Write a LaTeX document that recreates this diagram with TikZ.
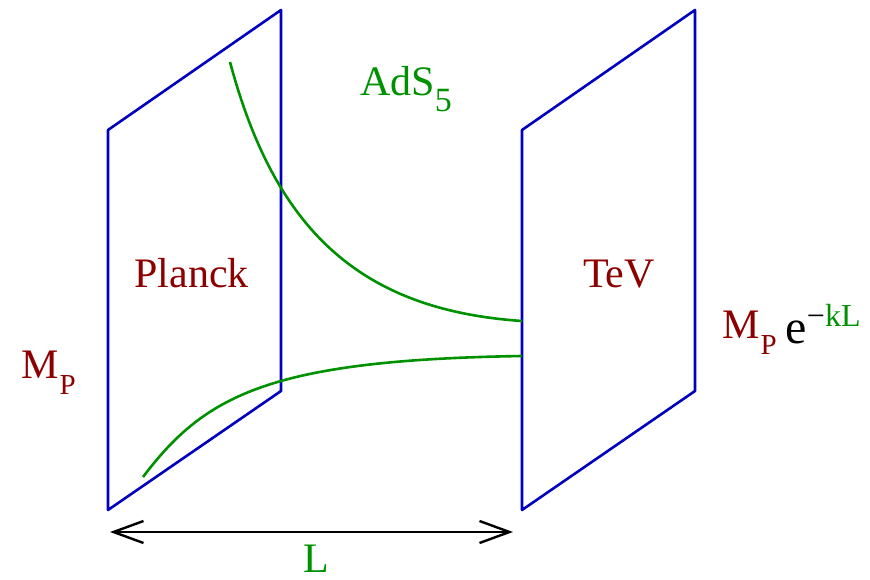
\documentclass[tikz,border=0pt]{standalone}
\usepackage{fontspec}
\setmainfont{Liberation Serif}
\usetikzlibrary{arrows.meta}

\definecolor{braneblue}{RGB}{0,0,190}
\definecolor{bulkgreen}{RGB}{0,145,0}
\definecolor{branered}{RGB}{140,0,0}

\newcommand{\bigfont}{\rmfamily\fontsize{42}{48}\selectfont}
\newcommand{\subfont}{\fontsize{29}{34}\selectfont}
\newcommand{\massP}{M\kern1pt\raisebox{-16pt}{\subfont P}}

\tikzset{
  brane/.style={
    draw=braneblue, line width=2.6pt, line join=round
  },
  bulk curve/.style={
    draw=bulkgreen, line width=2.6pt
  },
  dim arrow/.style={
    {Straight Barb[length=30pt,width=22pt]}-{Straight Barb[length=30pt,width=22pt]},
    line width=2.4pt, draw=black
  },
  brane label/.style={
    text=branered, font=\bigfont, inner sep=0pt
  },
  bulk label/.style={
    text=bulkgreen, font=\bigfont, inner sep=0pt
  }
}

\begin{document}
\begin{tikzpicture}[x=1pt, y=-1pt]
  \useasboundingbox (0,0) rectangle (870,580);

  % Planck brane
  \coordinate (pl-tl) at (108,130);
  \coordinate (pl-tr) at (281,10);
  \coordinate (pl-br) at (281,391);
  \coordinate (pl-bl) at (108,510);
  % TeV brane
  \coordinate (tv-tl) at (522,130);
  \coordinate (tv-tr) at (695,10);
  \coordinate (tv-br) at (695,391);
  \coordinate (tv-bl) at (522,510);

  \draw [brane] (pl-tl) -- (pl-tr) -- (pl-br) -- (pl-bl) -- cycle;
  \draw [brane] (tv-tl) -- (tv-tr) -- (tv-br) -- (tv-bl) -- cycle;

  % warped profile
  \coordinate (up-start) at (230,62);
  \coordinate (up-end) at (522,321);
  \coordinate (lo-start) at (143,477);
  \coordinate (lo-end) at (522,356);
  \draw [bulk curve] (up-start) .. controls (275,230) and (360,310) .. (up-end);
  \draw [bulk curve] (lo-start) .. controls (205,395) and (270,360) .. (lo-end);

  % separation
  \coordinate (len-l) at (110,532);
  \coordinate (len-r) at (513,532);
  \draw [dim arrow] (len-l) -- (len-r);

  \node (planck) [brane label, anchor=base] at (191.5,287) {Planck};
  \node (tev) [brane label, anchor=base] at (619,287) {TeV};
  \node (mp-left) [brane label, anchor=base west] at (21,378) {\massP};
  \node (mp-right) [brane label, anchor=base west] at (722,338)
    {\massP\kern9pt\textcolor{black}{\raisebox{-5pt}{\fontsize{48}{52}\selectfont e}%
     \raisebox{12pt}{\fontsize{32}{36}\selectfont −\textcolor{bulkgreen}{kL}}}};
  \node (ads) [bulk label, anchor=base west] at (360,96)
    {AdS\raisebox{-16pt}{\fontsize{34}{38}\selectfont 5}};
  \node (len) [bulk label, anchor=base] at (316,572) {L};
\end{tikzpicture}
\end{document}
